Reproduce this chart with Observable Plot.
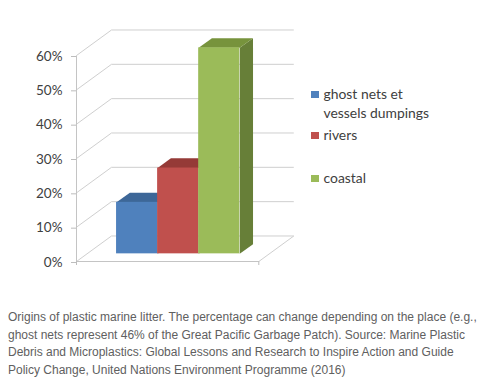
<!DOCTYPE html>
<html><head><meta charset="utf-8">
<script src="https://cdn.jsdelivr.net/npm/d3@7"></script>
<script src="https://cdn.jsdelivr.net/npm/@observablehq/plot@0.6"></script>
<style>
body{margin:0;background:#fff;}
#wrap{position:relative;width:494px;height:387px;overflow:hidden;}
#chart{position:absolute;left:0;top:0;}
.item{position:absolute;left:311px;font-family:Lato,"Open Sans",sans-serif;font-size:13.9px;line-height:18.7px;color:#404040;width:126px;}
.sw{position:absolute;left:0;top:5.6px;width:7.5px;height:7.5px;}
.lab{margin-left:12.5px;display:block;}
#caption{position:absolute;left:8px;top:309px;width:478px;font-family:"Liberation Sans",Arial,sans-serif;font-size:12px;line-height:17.6px;color:#606060;}
</style></head>
<body><div id="wrap"><div id="chart"></div><div id="legend"></div><div id="caption"></div></div>
<script>
// ---- data ----
const series = ["ghost nets et vessels dumpings", "rivers", "coastal"];
const values = [15, 25, 60];
const tickValues = [0, 10, 20, 30, 40, 50, 60];
const tickLabels = ["0%", "10%", "20%", "30%", "40%", "50%", "60%"];
const captionText = "Origins of plastic marine litter. The percentage can change depending on the place (e.g., ghost nets represent 46% of the Great Pacific Garbage Patch). Source: Marine Plastic Debris and Microplastics: Global Lessons and Research to Inspire Action and Guide Policy Change, United Nations Environment Programme (2016)";
const frontColors = ["#4f81bd", "#c0504d", "#9bbb59"];
const topColors = ["#3d6798", "#953a37", "#77933c"];
const sideColors = ["#355a86", "#833230", "#677f38"];

// ---- 3D box geometry (oblique projection, in data units) ----
const X0 = -0.72, X1 = 3.72;   // floor extent along the category axis
const DX = 0.852, DY = 7.43;   // depth of the box in x-units and percentage points
const Z0 = 0.30, Z1 = 0.68;    // front/back depth of the bars
const P = (x, y, z) => ({x: x + z * DX, y: y + z * DY});

const grid = "#cfcfcf";
const bars = series.map((s, i) => ({series: s, value: values[i], i}));

const marks = [
  // left wall gridlines
  Plot.link(tickValues, {x1: () => X0, y1: d => d, x2: () => X0 + DX, y2: d => d + DY, stroke: grid}),
  // back wall gridlines
  Plot.link(tickValues, {x1: () => X0 + DX, y1: d => d + DY, x2: () => X1 + DX, y2: d => d + DY, stroke: grid}),
  // floor front and right edges
  Plot.link([0], {x1: () => X0, y1: () => 0, x2: () => X1, y2: () => 0, stroke: "#c4c4c4"}),
  Plot.link([0], {x1: () => X1, y1: () => 0, x2: () => X1 + DX, y2: () => DY, stroke: grid}),
  // front vertical axis line
  Plot.link([0], {x1: () => X0, y1: () => 0, x2: () => X0, y2: () => tickValues[tickValues.length - 1], stroke: "#c4c4c4"}),
  Plot.axisY(tickValues, {anchor: "left", label: null, tickSize: 5, tickPadding: 9, tickFormat: d => tickLabels[tickValues.indexOf(d)],
    fontSize: 13.5, fontFamily: "Lato", fill: "#404040", stroke: "#bdbdbd", dy: 1}),
  Plot.axisX([X0, X1], {anchor: "bottom", label: null, tickSize: 4, tickFormat: () => "", stroke: "#bdbdbd"})
];

for (const b of bars) {
  const {i, value: v} = b;
  const side = [P(i + 1, 0, Z0), P(i + 1, v, Z0), P(i + 1, v, Z1), P(i + 1, 0, Z1)];
  const top = [P(i, v, Z0), P(i + 1, v, Z0), P(i + 1, v, Z1), P(i, v, Z1)];
  marks.push(Plot.line(side, {x: "x", y: "y", fill: sideColors[i], stroke: "none"}));
  marks.push(Plot.line(top, {x: "x", y: "y", fill: topColors[i], stroke: "none"}));
  marks.push(Plot.rect([b], {x1: d => d.i + Z0 * DX, x2: d => d.i + 1 + Z0 * DX, y1: () => Z0 * DY, y2: d => d.value + Z0 * DY, fill: frontColors[i]}));
}

const chart = Plot.plot({
  width: 494, height: 290,
  marginLeft: 76, marginRight: 235.7, marginTop: 55, marginBottom: 29,
  x: {domain: [X0, X1], axis: null},
  y: {domain: [0, 60], axis: null},
  style: {fontFamily: "Lato", fontSize: "13.5px", background: "#fff", color: "#404040"},
  marks
});
document.getElementById("chart").append(chart);

// legend
const legendTops = [85, 126.3, 169];
const legend = document.getElementById("legend");
series.forEach((s, i) => {
  const d = document.createElement("div");
  d.className = "item";
  d.style.top = legendTops[i] + "px";
  const sw = document.createElement("span");
  sw.className = "sw"; sw.style.background = frontColors[i];
  const t = document.createElement("span");
  t.className = "lab"; t.textContent = s;
  d.append(sw, t);
  legend.append(d);
});
document.getElementById("caption").textContent = captionText;
</script>
</body></html>
